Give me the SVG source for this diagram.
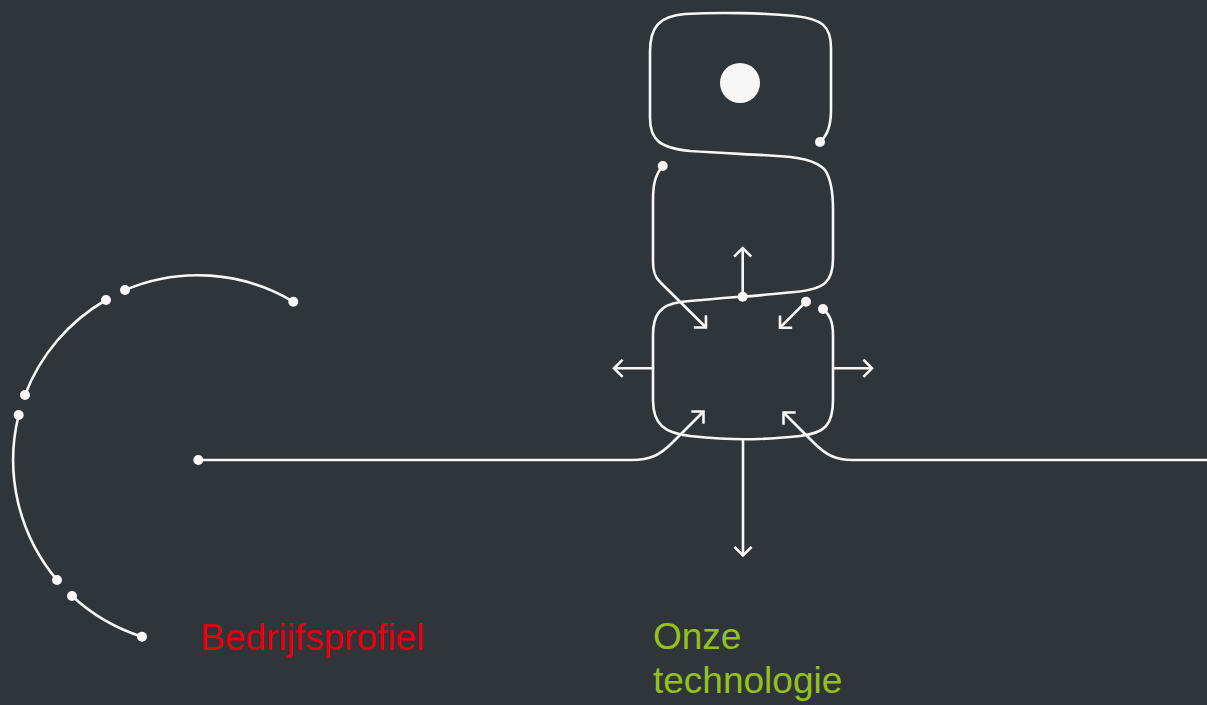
<svg xmlns="http://www.w3.org/2000/svg" width="1207" height="705" viewBox="0 0 1207 705">
  <defs>
    <style>
      .ln { fill: none; stroke: #f7f7f7; stroke-width: 2.6; stroke-linecap: butt; stroke-linejoin: miter; }
      .dot { fill: #f7f7f7; }
      .lbl { font-family: "Liberation Sans", Arial, sans-serif; font-size: 37px; }
    </style>
    <marker id="chev" markerUnits="userSpaceOnUse" viewBox="-12 -10 14 20" markerWidth="14" markerHeight="20" refX="0" refY="0" orient="auto">
      <path d="M-8.6,-8.6 L0,0 L-8.6,8.6" fill="none" stroke="#f7f7f7" stroke-width="2.6"/>
    </marker>
  </defs>

  <rect width="1207" height="705" fill="#2f3538"/>

  <!-- company profile: broken circle -->
  <g id="profile-ring">
    <path class="ln" d="M125,290 A186,186 0 0 1 293,301.5"/>
    <path class="ln" d="M106,300 A186,186 0 0 0 25,395"/>
    <path class="ln" d="M18.7,415 A186,186 0 0 0 57,580"/>
    <path class="ln" d="M72,596 A186,186 0 0 0 142,636.7"/>
    <circle class="dot" cx="125" cy="290" r="5"/>
    <circle class="dot" cx="293.3" cy="301.7" r="5"/>
    <circle class="dot" cx="106" cy="300" r="5"/>
    <circle class="dot" cx="25" cy="395" r="5"/>
    <circle class="dot" cx="18.7" cy="415" r="5"/>
    <circle class="dot" cx="57" cy="580" r="5"/>
    <circle class="dot" cx="72" cy="596" r="5"/>
    <circle class="dot" cx="142" cy="636.7" r="5"/>
  </g>

  <!-- technology: stacked cells drawn as one line -->
  <g id="tech-stack">
    <path class="ln" d="M820,142 C827,136 831,126 831,110 L831,48 C831,26 822,19 795,16 C765,13 720,12 685,14 C660,16 650,26 650,52 L650,118 C650,140 660,148 690,151 C720,153 745,154 770,155.5 C800,157 815,160 825,170 C832,180 833,195 833,210 L833,258 C833,282 825,289 795,292 C770,294 755,296 742.7,296.7 C720,298 700,300 680,302 C660,305 653,315 653,335 L653,400 C653,425 665,433 690,436 C710,438 725,439.3 743,439.3 C760,439.3 780,438 800,436 C825,433 833,425 833,400 L833,335 C833,322 830,315 823,309"/>
    <path class="ln" d="M662.7,166 C655,175 653,185 653,200 L653,262 C653,272 655,277 660,282 L706,327.5" marker-end="url(#chev)"/>
    <circle class="dot" cx="820" cy="142" r="5"/>
    <circle class="dot" cx="662.7" cy="166" r="5"/>
    <circle class="dot" cx="823" cy="309" r="5"/>
    <circle class="dot" cx="740" cy="83" r="20"/>
  </g>

  <!-- arrows around the lower cell -->
  <g id="connectors">
    <path class="ln" d="M742.7,296.7 L742.7,248" marker-end="url(#chev)"/>
    <circle class="dot" cx="742.7" cy="296.7" r="5"/>
    <path class="ln" d="M806,301.7 L780,327.7" marker-end="url(#chev)"/>
    <circle class="dot" cx="806" cy="301.7" r="5"/>
    <path class="ln" d="M653,368.3 L614,368.3" marker-end="url(#chev)"/>
    <path class="ln" d="M833,368.3 L872,368.3" marker-end="url(#chev)"/>
    <path class="ln" d="M743,439.3 L743,555.5" marker-end="url(#chev)"/>
    <path class="ln" d="M198.3,460 L632,460 C650,460 660,455 672,443 L703.5,411.5" marker-end="url(#chev)"/>
    <circle class="dot" cx="198.3" cy="460" r="5"/>
    <path class="ln" d="M1207,460 L852,460 C836,460 826,455 814,443 L783.5,412.5" marker-end="url(#chev)"/>
  </g>

  <g id="labels">
    <text class="lbl" x="200" y="650" fill="#e3000f">Bedrijfsprofiel</text>
    <text class="lbl" x="653" y="649.3" fill="#95c11f">Onze</text>
    <text class="lbl" x="653" y="693.3" fill="#95c11f">technologie</text>
  </g>
</svg>
